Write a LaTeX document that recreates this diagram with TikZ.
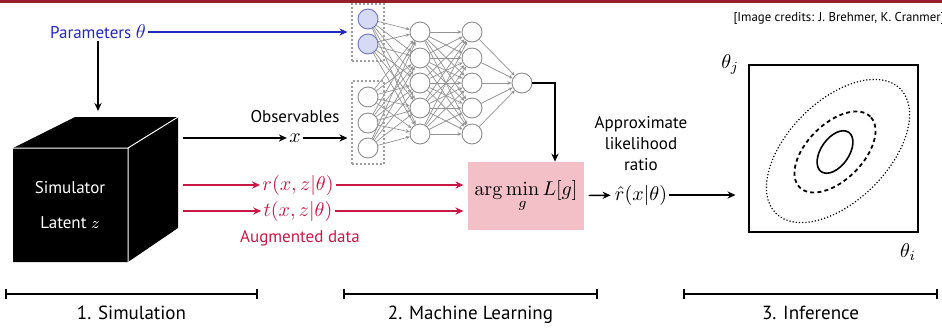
\documentclass[tikz,border=0pt]{standalone}
\usepackage[no-math]{fontspec}
\setmainfont{PT Sans}
\usetikzlibrary{arrows.meta,positioning}
\definecolor{parblue}{RGB}{35,40,190}
\definecolor{augred}{RGB}{200,25,70}
\definecolor{losspink}{RGB}{242,192,198}
\definecolor{nodeblue}{RGB}{215,218,245}
\definecolor{edgeblue}{RGB}{110,115,200}
\definecolor{topred}{RGB}{150,30,40}
\tikzset{
  flow/.style={-{Stealth[length=4pt,width=3.6pt]}, line width=0.7pt},
  wire/.style={-{Stealth[length=2pt,width=1.8pt]}, draw=gray!85, line width=0.35pt},
  neuron/.style={circle, draw=gray!90, line width=0.45pt, minimum size=10pt, inner sep=0pt, fill=white},
  inneuron/.style={neuron, draw=edgeblue, fill=nodeblue},
  layerbox/.style={draw=gray!75, dash pattern=on 1pt off 1pt, line width=0.6pt, minimum width=16pt, inner sep=0pt},
  txt/.style={font=\fontsize{8.5}{10.5}\selectfont, inner sep=1pt},
  mtxt/.style={font=\fontsize{10}{12}\selectfont, inner sep=1pt},
  barlab/.style={font=\fontsize{9.5}{11}\selectfont}
}

\begin{document}
\begin{tikzpicture}[x=0.5pt,y=-0.5pt]
  \useasboundingbox (0,0) rectangle (942,328);
  \fill[topred] (0,0) rectangle (942,3);
  \node[font=\fontsize{6.4}{7}\selectfont, anchor=east, inner sep=0pt] (credits) at (945,18) {[Image credits: J. Brehmer, K. Cranmer]};

  \fill (13,148) -- (75,117) -- (178,117) -- (178,228) -- (128,262) -- (13,262) -- cycle;
  \draw[white, line width=0.5pt] (13,148) -- (128,148) -- (128,262) (128,148) -- (178,117);
  \node[txt, white] (simlab) at (70,188) {Simulator};
  \node[txt, white] (latlab) at (70,223) {Latent $z$};
  \coordinate (simtop) at (98,111);
  \coordinate (simx) at (183,138);
  \coordinate (simr) at (183,185);
  \coordinate (simt) at (183,211);

  \node[txt, parblue] (param) at (98,32) {Parameters {\fontsize{10}{10}\selectfont$\theta$}};
  \draw[flow] (param) -- (simtop);

  \foreach \y [count=\i] in {19,44} \node[inneuron] (a\i) at (368,\y) {};
  \foreach \y [count=\i from 3] in {97,123,148} \node[neuron] (a\i) at (368,\y) {};
  \foreach \y [count=\i] in {32,58,83,108,134} {
    \node[neuron] (b\i) at (420,\y) {};
    \node[neuron] (c\i) at (472,\y) {};
  }
  \node[neuron] (o) at (522,83) {};
  \foreach \i in {1,...,5} \foreach \j in {1,...,5} {
    \draw[wire] (a\i) -- (b\j);
    \draw[wire] (b\i) -- (c\j);
  }
  \foreach \i in {1,...,5} \draw[wire] (c\i) -- (o);
  \node[layerbox, minimum height=28.5pt] (thbox) at (368,32.5) {};
  \node[layerbox, minimum height=41.5pt] (xbox) at (368,122.5) {};

  \draw[flow, parblue, shorten >=2pt] (param) -- (thbox.west |- param);

  \node[mtxt] (xobs) at (295,138) {$x$};
  \node[txt, above=3pt of xobs] (obslab) {Observables};
  \draw[flow] (simx) -- (xobs);
  \draw[flow, shorten >=2pt] (xobs) -- (xbox.west |- xobs);

  \node[draw=none, fill=losspink, minimum width=48pt, minimum height=34pt, font=\fontsize{10}{12}\selectfont] (loss) at (526,196) {$\displaystyle\arg\min_g L[g]$};
  \node[mtxt, augred] (rlab) at (298,185) {$r(x,z|\theta)$};
  \node[mtxt, augred] (tlab) at (298,211) {$t(x,z|\theta)$};
  \node[txt, augred] (auglab) at (300,238) {Augmented data};
  \draw[flow, augred] (simr) -- (rlab);
  \draw[flow, augred, shorten >=2pt] (rlab) -- (loss.west |- rlab);
  \draw[flow, augred] (simt) -- (tlab);
  \draw[flow, augred, shorten >=2pt] (tlab) -- (loss.west |- tlab);

  \draw[flow] (o) -| ([xshift=14.5pt]loss.north);

  \node[mtxt] (rhat) at (641,195) {$\hat r(x|\theta)$};
  \node[txt, align=center, above=5pt of rhat] (ratiolab) {Approximate\\likelihood\\ratio};
  \node[draw, line width=1pt, minimum width=84.5pt, minimum height=83.5pt, inner sep=0pt] (plot) at (833,148.5) {};
  \draw[flow, shorten <=2pt, shorten >=1pt] (loss) -- (rhat);
  \draw[flow, shorten >=6pt] (rhat) -- (plot.west |- rhat);
  \node[mtxt, anchor=east] (thj) at ([xshift=-3pt]plot.north west) {$\theta_j$};
  \node[mtxt, anchor=north east] (thi) at ([yshift=-4pt]plot.south east) {$\theta_i$};

  \begin{scope}[shift={(835,152)}, rotate=55]
    \draw[line width=0.8pt] (0,0) ellipse [x radius=12pt, y radius=7pt];
  \end{scope}
  \begin{scope}[shift={(835,152)}, rotate=45]
    \draw[line width=0.9pt, dash pattern=on 2pt off 1.6pt] (0,0) ellipse [x radius=25pt, y radius=14pt];
  \end{scope}
  \begin{scope}[shift={(838,151)}, rotate=45]
    \draw[line width=0.6pt, densely dotted] (0,0) ellipse [x radius=44pt, y radius=25pt];
  \end{scope}

  \draw[{Bar[width=5pt]}-{Bar[width=5pt]}, line width=1pt] (5,294) -- node[below=2pt, barlab] (simbar) {1. Simulation} (258,294);
  \draw[{Bar[width=5pt]}-{Bar[width=5pt]}, line width=1pt] (343,294) -- node[below=2pt, barlab] (mlbar) {2. Machine Learning} (598,294);
  \draw[{Bar[width=5pt]}-{Bar[width=5pt]}, line width=1pt] (683,294) -- node[below=2pt, barlab] (infbar) {3. Inference} (938,294);
\end{tikzpicture}
\end{document}
